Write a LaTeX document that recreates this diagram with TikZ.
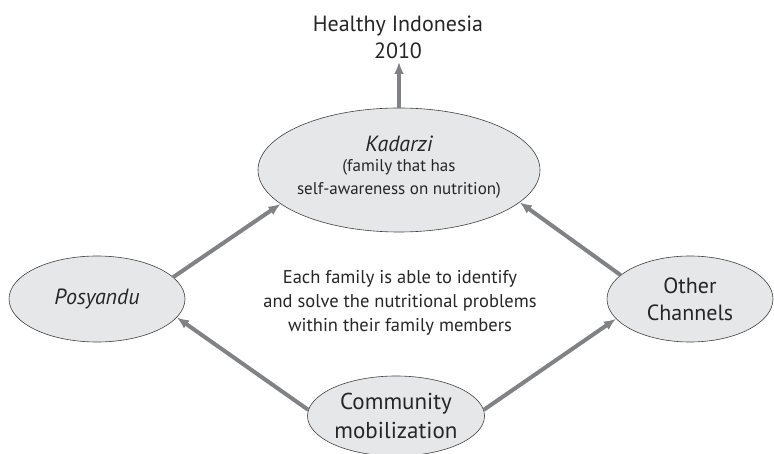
\documentclass[tikz,border=0pt]{standalone}
\usepackage{fontspec}
\setmainfont{PT Sans}
\usetikzlibrary{shapes.geometric,arrows.meta}
\tikzset{>={Latex[length=12pt,width=10pt]}}
\definecolor{ovalfill}{RGB}{230,231,232}
\definecolor{arrowgray}{RGB}{128,130,133}

\begin{document}
\begin{tikzpicture}[x=1pt,y=-1pt, align=center]
\useasboundingbox (0,0) rectangle (774,454);
\tikzset{every node/.style={inner sep=0pt, text=black!85},
oval/.style={ellipse, draw=black!75, line width=0.6pt, fill=ovalfill},
big/.style={font=\fontsize{22}{27}\selectfont},
small/.style={font=\fontsize{18}{23}\selectfont}}
\tikzset{link/.style={draw=arrowgray, line width=4pt, ->}}
\node[big] (goal) at (398,37) {Healthy Indonesia\\2010};
\node[oval, minimum width=282pt, minimum height=124pt] (kad) at (399,170) {};
\node[big] (kadname) at (399,144) {\itshape Kadarzi};
\node[small, font=\fontsize{17}{23}\selectfont] (kadtext) at (399,179) {(family that has\\self-awareness on nutrition)};
\node[oval, minimum width=176pt, minimum height=86pt, big] (posy) at (97,299) {\itshape Posyandu};
\node[oval, minimum width=166pt, minimum height=86pt, big] (other) at (690,299) {Other\\Channels};
\node[oval, minimum width=177pt, minimum height=80pt, font=\fontsize{23}{29}\selectfont] (comm) at (396,416) {Community\\mobilization};
\node[small, font=\fontsize{18.5}{24}\selectfont] (aim) at (400,303) {Each family is able to identify\\and solve the nutritional problems\\within their family members};
\path[link] (kad.north) -- (kad.north |- 0,62);
\path[link] (posy.16) -- (kad.196);
\path[link] (other.161) -- (kad.345);
\path[link] (comm.176) -- (posy.347);
\path[link] (comm.4) -- (other.195);
\end{tikzpicture}
\end{document}
